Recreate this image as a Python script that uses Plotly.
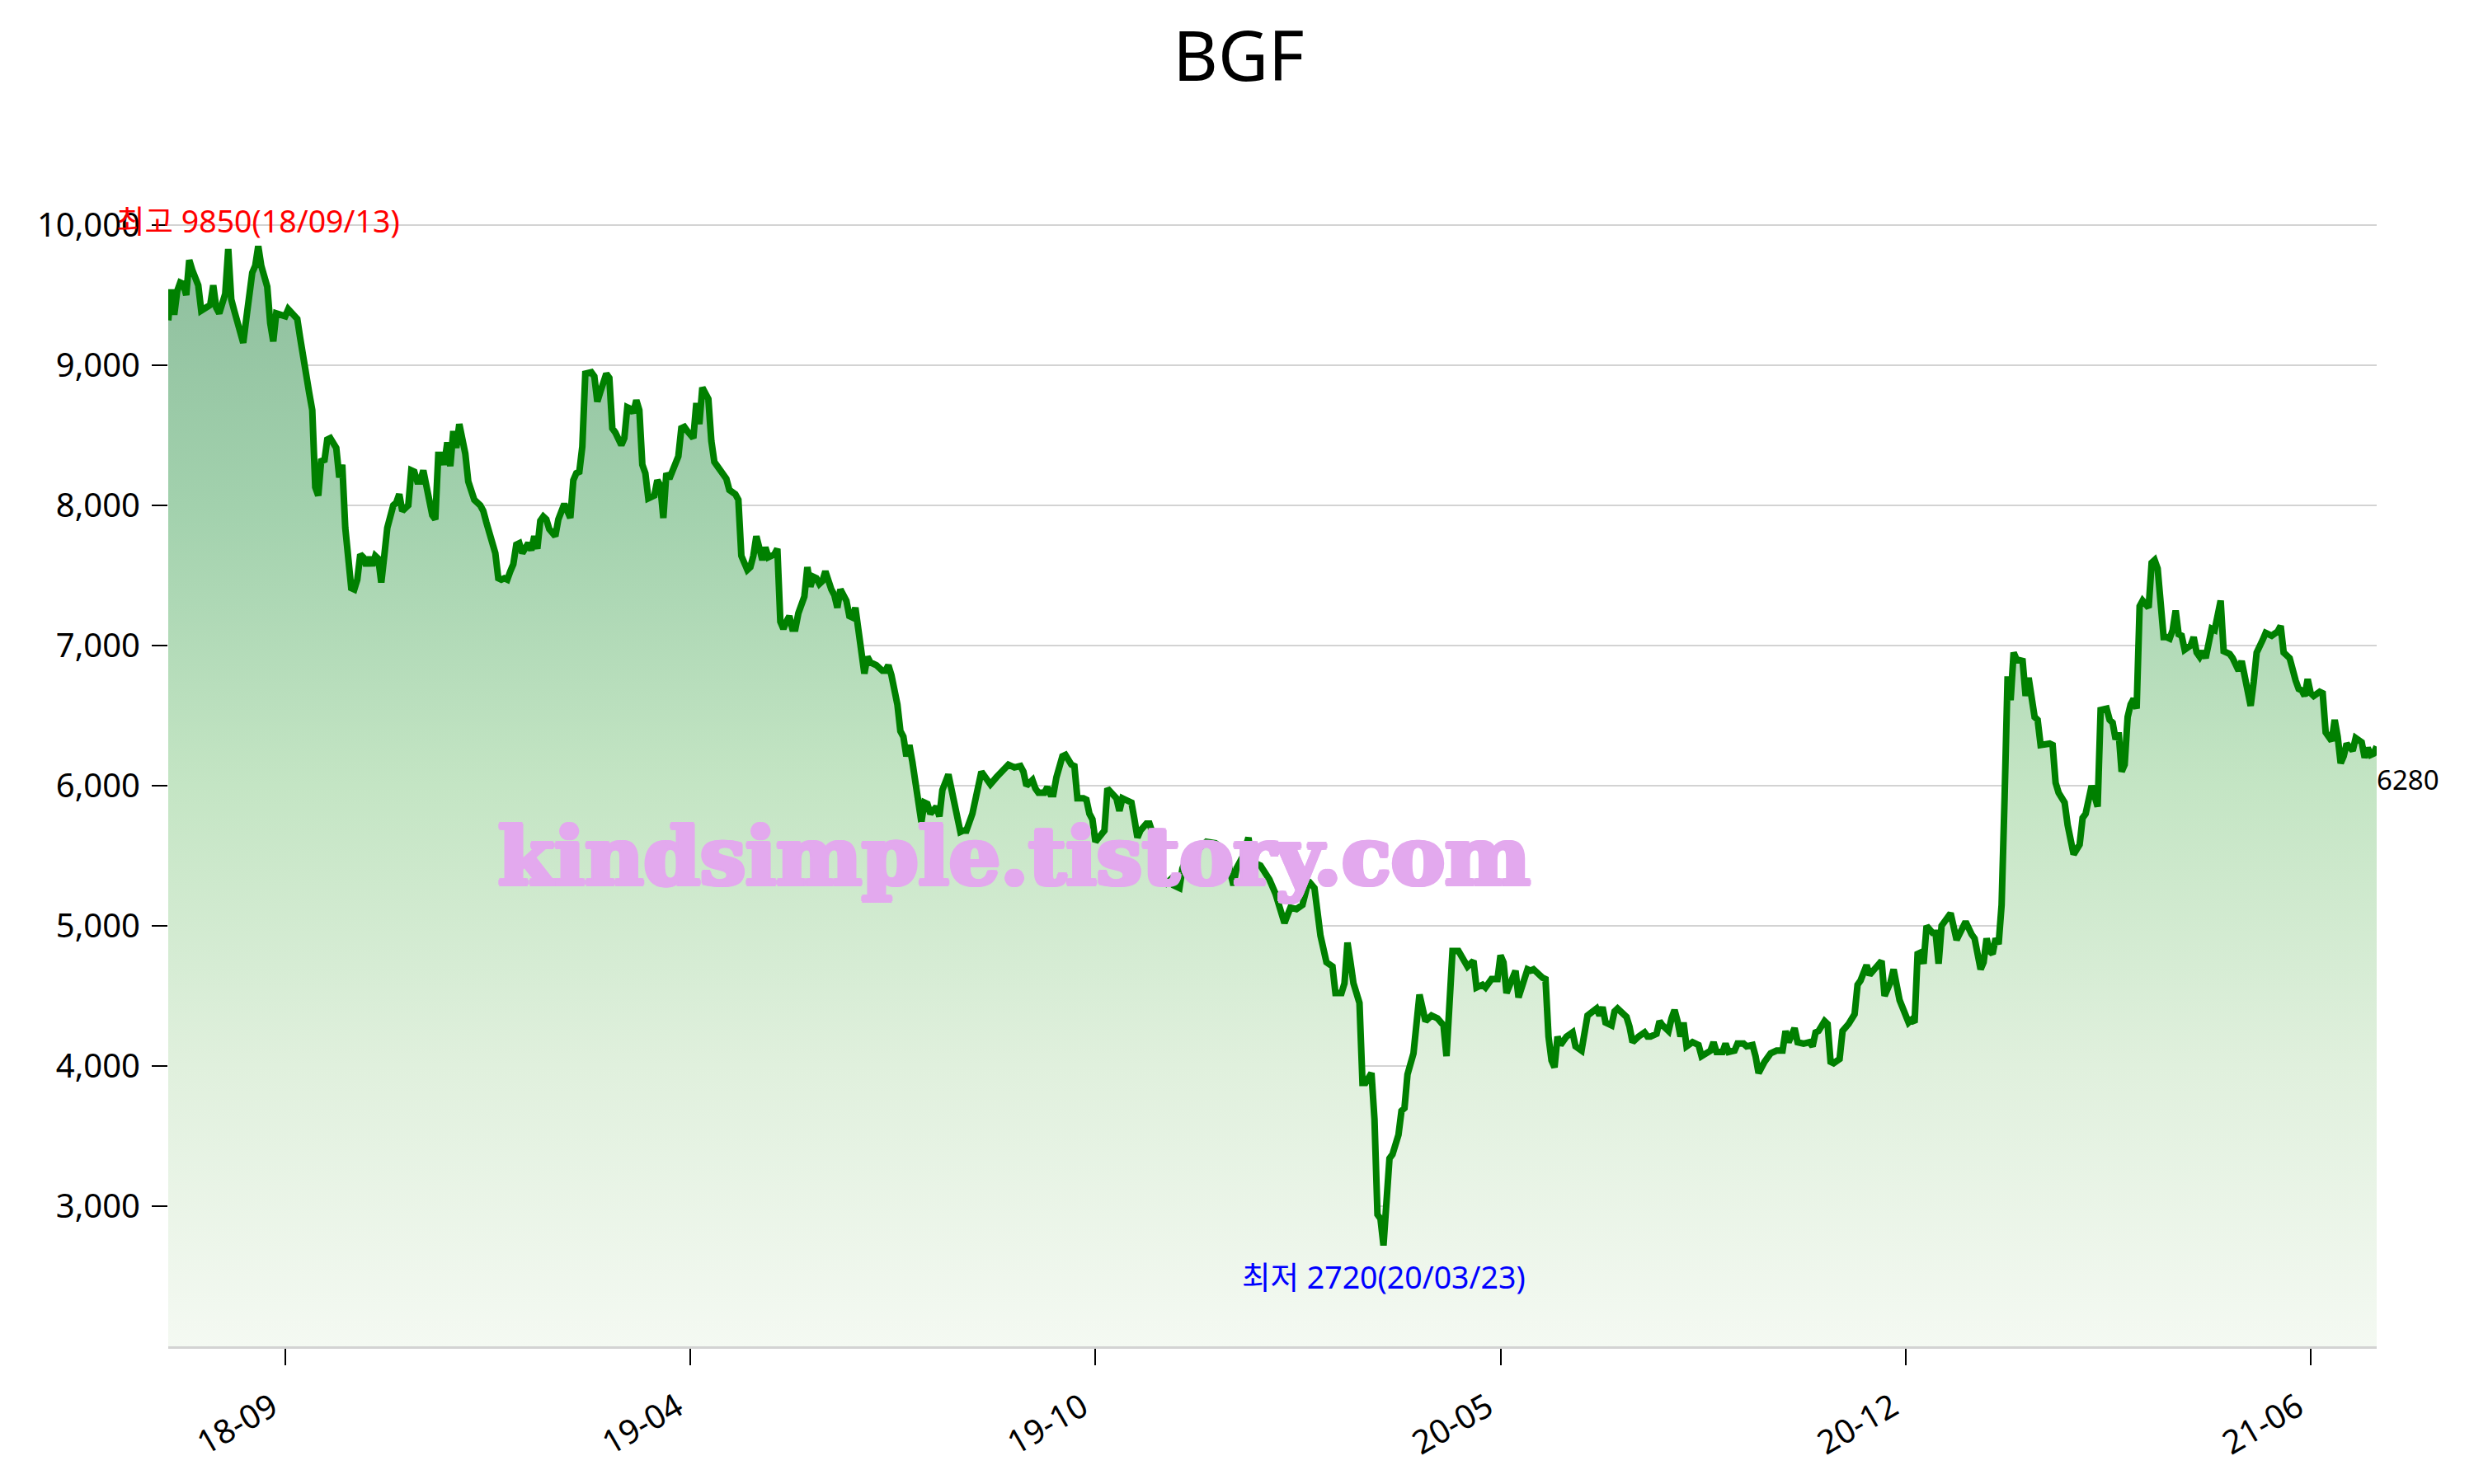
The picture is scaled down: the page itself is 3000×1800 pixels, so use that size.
import plotly.graph_objects as go

# ---------------- data ----------------
stock_name = "BGF"
# trading-day index (0 = first trading day shown, ~2018-08-01)
days = [
    0, 1, 2, 3, 4, 5, 6, 7, 8, 9, 10, 11, 12, 13, 14, 15, 16, 17, 18, 19, 20, 21, 22, 23, 24, 25, 26, 28, 29, 30,
    31, 32, 33, 34, 35, 36, 38, 39, 40, 41, 43, 44, 45, 47, 48, 49, 50, 51, 52, 53, 54, 56, 57, 58, 59, 60, 61, 62,
    63, 64, 65, 66, 67, 68, 69, 70, 71, 72, 73, 74, 75, 76, 77, 78, 79, 80, 81, 82, 83, 84, 85, 86, 87, 88, 89, 90,
    91, 92, 93, 94, 95, 96, 97, 98, 99, 100, 101, 102, 104, 105, 106, 107, 108, 109, 110, 111, 112, 113, 114, 115,
    116, 117, 118, 119, 120, 121, 122, 123, 124, 125, 126,
    127, 129, 130, 132, 133, 134, 135, 136, 137, 138, 139, 140, 141, 142, 143, 144, 146, 147, 148, 149, 151, 152,
    153, 154, 155, 156, 157, 158, 159, 160, 162, 163, 164, 165, 166, 167, 169, 170, 171, 172, 173, 175, 176, 177,
    178, 179, 180, 181, 182, 183, 185, 186, 187, 189, 190, 191, 192, 193, 194, 195, 196, 197, 198, 199, 200, 202,
    203, 204, 205, 206, 207, 208, 209, 210, 211, 212, 213, 214, 215, 216, 217, 218, 219, 220, 221, 222, 223, 224,
    225, 226, 227, 228, 229, 231, 232, 233, 234, 236, 238, 239, 240, 241,
    243, 244, 245, 246, 247, 248, 249, 251, 252, 253, 254, 256, 257, 258, 260, 262, 263, 264, 265, 266, 268, 270,
    271, 273, 274, 276, 279, 280, 282, 284, 285, 286, 287, 288, 289, 290, 292, 293, 294, 295, 296, 298, 299, 300,
    301, 302, 303, 305, 306, 307, 308, 309, 311, 312, 313, 315, 316, 317, 318, 319, 321, 322, 323, 324, 326, 327,
    329, 332, 334, 335, 337, 338, 340, 343, 346, 349, 351, 353, 355, 356, 358, 360, 361, 364, 367, 369, 371, 372,
    374, 376, 378, 379, 380, 382, 383, 384, 386, 387, 388, 389, 391, 392, 393, 394, 395, 397, 398, 399, 401, 402,
    403, 404, 405, 407, 408, 410, 411, 412, 413, 415, 416, 417, 419, 421, 423, 425, 426, 427, 428, 430, 432, 433,
    435, 436, 438, 439, 441, 443, 444, 445, 446, 448, 449, 450, 453, 454, 455, 458, 459, 460, 461, 462, 463, 464,
    466, 468, 469, 471, 472, 473, 476, 477, 478, 479, 481, 482, 483, 485, 486, 487, 488, 490, 492, 493, 494,
    496, 497, 498, 500, 501, 502, 503, 504, 505, 506, 508, 510, 511, 513, 514, 515, 516, 518, 519, 520, 522, 523,
    525, 526, 528, 529, 530, 532, 534, 536, 538, 539, 540, 542, 543, 545, 547, 548, 549, 550, 552, 553, 554, 555,
    557, 558, 560, 562, 563, 564, 565, 566, 567, 569, 571, 572, 574, 575, 576, 577, 580, 581, 582, 583, 584, 585,
    586, 588, 589, 590, 591, 593, 594, 596, 597, 599, 601, 602, 604, 605, 606, 607, 608, 609, 610, 611, 612, 613,
    614, 615,
    616, 618, 619, 620, 622, 623, 624, 627, 628, 629, 630, 632, 633, 634, 635, 637, 638, 639, 640, 641, 643, 644,
    646, 647, 648, 649, 650, 651, 652, 653, 654, 655, 656, 657, 658, 660, 661, 662, 663, 665, 666, 667, 668, 669,
    670, 671, 672, 674, 675, 676, 677, 678, 679, 681, 682, 684, 685, 687, 688, 690, 691, 693, 694, 695, 696, 698,
    699, 701, 703, 704, 705, 706, 707, 709, 710, 711, 712, 713, 714, 715, 717, 718, 719, 721, 722, 723, 724, 725,
    726, 728, 729, 731, 732, 733, 734, 735, 736,
]
prices = [
    9320, 9540, 9360, 9530, 9590, 9580, 9500, 9750, 9680, 9610, 9570, 9390, 9400, 9410, 9430, 9570, 9410, 9370,
    9460, 9510, 9830, 9470, 9390, 9310, 9230, 9160, 9330, 9660, 9710, 9850,
    9710, 9640, 9560, 9300, 9170, 9370, 9350, 9350, 9400, 9370, 9330, 9190, 9040, 8800, 8680, 8130, 8070, 8330,
    8310, 8470, 8480, 8410, 8200, 8290, 7840, 7580, 7410, 7400,
    7470, 7650, 7630, 7570, 7630, 7570, 7640, 7620, 7450, 7640, 7840, 7920, 8000, 8020, 8080, 7960, 7980, 8000,
    8250, 8240, 8170, 8170, 8250, 8150, 8000, 7930, 7900, 8360,
    8360, 8290, 8450, 8280, 8530, 8410, 8580, 8470, 8370, 8170, 8080, 8040, 8000, 7960, 7880, 7810, 7720, 7660,
    7480, 7470, 7480, 7470, 7530, 7580,
    7720, 7730, 7660, 7700, 7730, 7680, 7780, 7690, 7890, 7920, 7900,
    7830, 7780, 7900, 8010, 7960, 7910, 8180, 8230, 8240, 8420, 8940, 8950, 8950, 8920, 8740, 8810, 8940, 8910,
    8550, 8520, 8430, 8480,
    8700, 8690, 8660, 8750, 8680, 8290, 8230, 8050, 8070, 8180, 8140, 7910, 8230, 8190, 8320, 8350, 8550, 8560,
    8530, 8480, 8730, 8580,
    8840, 8790, 8760, 8460, 8310, 8280, 8230, 8190, 8110, 8080, 8040, 7640, 7590, 7540, 7560, 7640, 7780, 7700,
    7610, 7700, 7630, 7650,
    7690, 7170, 7120, 7170, 7210, 7120, 7120, 7230, 7310, 7350, 7560, 7420, 7490, 7480, 7440, 7460, 7530, 7440,
    7400, 7360, 7270, 7400,
    7370, 7320, 7210, 7200, 7270, 6900, 6800, 6920, 6880, 6860, 6820, 6820, 6860, 6790,
    6580, 6390, 6350, 6210, 6290, 6170, 6000, 5740, 5880, 5870, 5800, 5850, 5780, 5970, 6080, 5860, 5740, 5670,
    5680, 5680, 5800, 6010,
    6100, 6040, 6010, 6060, 6140, 6150, 6130, 6140, 6100, 6000, 6020, 6040, 5980, 5950, 5950, 5990, 5940, 5940,
    6060, 6210, 6220, 6180,
    6150, 6140, 5910, 5910, 5900, 5800, 5760, 5600, 5650, 5680, 5980, 5930, 5910, 5820, 5910, 5900, 5880, 5760,
    5630, 5680, 5730, 5730,
    5600, 5290, 5330, 5290, 5270, 5410, 5510, 5540, 5600, 5590, 5560, 5470, 5290, 5410, 5490, 5630, 5460, 5430,
    5330, 5230, 5090, 5020,
    5130, 5120, 5150, 5250, 5320, 5270, 5080, 4930, 4740, 4720, 4710, 4520, 4520, 4590, 4880, 4740, 4590, 4450,
    3880, 3880, 3950, 3620,
    2940, 2910, 2720, 3340, 3370, 3510, 3680, 3700, 3940, 4090, 4320, 4510, 4320, 4360, 4340, 4290, 4070, 4480,
    4820, 4820, 4760, 4710,
    4750, 4560, 4580, 4560, 4620, 4620, 4790, 4740, 4520, 4610, 4680, 4490, 4690, 4680, 4690, 4630, 4620, 4210,
    4040, 3990, 4210, 4150,
    4210, 4240, 4140, 4110, 4240, 4360, 4410, 4360, 4420, 4310, 4290, 4390, 4410, 4360, 4350, 4280, 4170, 4210,
    4240, 4210, 4210,
    4230, 4320, 4290, 4250, 4340, 4400, 4320, 4210, 4310, 4140, 4170, 4150, 4070, 4100, 4110, 4170, 4100, 4100,
    4160, 4100, 4110, 4160,
    4160, 4140, 4150, 4070, 3950, 4030, 4090, 4110, 4110, 4250, 4170, 4270, 4170, 4160, 4170, 4140, 4240, 4250,
    4320, 4300, 4030, 4020,
    4050, 4250, 4300, 4370, 4580, 4610, 4660, 4720, 4650, 4700, 4750, 4500, 4600, 4690, 4590, 4470, 4310, 4330,
    4310, 4800, 4810, 4730,
    5000, 4950, 4950, 4730, 5000, 5050, 5090, 4900, 4940, 5030, 4940, 4910, 4690, 4740, 4910, 4820, 4800, 4910,
    4870, 5150, 5920, 6780,
    6610, 6950,
    6900, 6890, 6640, 6770, 6490, 6470, 6290, 6300, 6290, 6020, 5950, 5880, 5720, 5620, 5510, 5580, 5770, 5800,
    5900, 6000, 5850, 6540,
    6550, 6470, 6450, 6330, 6380, 6100, 6150, 6490, 6580, 6620, 6550, 7280, 7320, 7270, 7590, 7610, 7550, 7060,
    7060, 7050, 7110, 7250,
    7080, 7070, 6970, 7000, 7060, 6950, 6920, 6960, 6910, 7120, 7110, 7320, 6960, 6940, 6910, 6820, 6890, 6680,
    6570, 6740, 6950, 7040,
    7090, 7070, 7100, 7140, 6950, 6930, 6910, 6750, 6690, 6680, 6640, 6760, 6660, 6640, 6670, 6660, 6380, 6320,
    6470, 6350, 6160, 6210,
    6300, 6250, 6340, 6310, 6200, 6270, 6220, 6230, 6280,
]
tick_days = [39, 174, 309, 444, 579, 714]
tick_labels = ["18-09", "19-04", "19-10", "20-05", "20-12", "21-06"]
y_ticks = [3000, 4000, 5000, 6000, 7000, 8000, 9000, 10000]
high_date = "18/09/13"
low_date = "20/03/23"
watermark = "kindsimple.tistory.com"

# ---------------- figure ----------------
FONT = "Noto Sans, Noto Sans CJK KR, sans-serif"
WM_COLOR = "#e3a9ee"

i_max = max(range(len(prices)), key=lambda i: prices[i])
i_min = min(range(len(prices)), key=lambda i: prices[i])

fig = go.Figure()
fig.add_trace(go.Scatter(
    x=days, y=prices, mode="lines",
    line=dict(color="#008000", width=8),
    fill="tozeroy",
    fillgradient=dict(
        type="vertical", start=2000, stop=10000,
        colorscale=[[0.0, "#f4f9f2"], [0.25, "#e0f0dd"], [0.5, "#c4e5c4"],
                    [0.75, "#a2d1ad"], [1.0, "#8cbd9c"]],
    ),
    hoverinfo="skip",
    showlegend=False,
))

wm_shadow = ", ".join(f"{dx}px {dy}px 0 {WM_COLOR}" for dx, dy in
                      [(2, 0), (-2, 0), (0, 2), (0, -2), (2, 2), (-2, -2), (2, -2), (-2, 2),
                       (3, 0), (-3, 0)])

annotations = [
    dict(x=days[i_max], y=prices[i_max], text=f"최고 {prices[i_max]}({high_date})",
         showarrow=False, xanchor="center", yanchor="middle", yshift=31,
         font=dict(color="#ff0000", size=37.5, family=FONT)),
    dict(x=days[i_min], y=prices[i_min], text=f"최저 {prices[i_min]}({low_date})",
         showarrow=False, xanchor="center", yanchor="middle", yshift=-38,
         font=dict(color="#0000ff", size=37.5, family=FONT)),
    dict(x=days[-1], y=prices[-1], text=str(prices[-1]),
         showarrow=False, xanchor="left", yanchor="middle", yshift=-40, xshift=-2,
         font=dict(color="#000000", size=33, family=FONT)),
    dict(x=282, y=5500, text=f"<b>{watermark}</b>", showarrow=False,
         xanchor="center", yanchor="middle",
         font=dict(color=WM_COLOR, size=98, family="DejaVu Serif", shadow=wm_shadow)),
]

fig.update_layout(
    width=3000, height=1800,
    margin=dict(l=196, r=126, t=180, b=175),
    paper_bgcolor="white", plot_bgcolor="white",
    font=dict(family=FONT, color="black"),
    title=dict(text=stock_name, x=0.498, xanchor="center", xref="container",
               y=1 - 61 / 1800, yanchor="middle",
               font=dict(size=84, color="black", family=FONT)),
    annotations=annotations,
    showlegend=False,
)

fig.update_xaxes(
    range=[0, 736], tickvals=tick_days, ticktext=tick_labels,
    tickangle=-30, tickfont=dict(size=40, color="black"),
    ticks="outside", ticklen=20, tickwidth=2, tickcolor="black",
    ticklabelstandoff=12, ticklabelshift=-16,
    showgrid=False, zeroline=False,
    showline=True, linecolor="#d3d3d3", linewidth=3,
)
fig.update_yaxes(
    range=[2000, 10500], tickvals=y_ticks, tickformat=",",
    tickfont=dict(size=40, color="black"),
    ticks="outside", ticklen=19, tickwidth=2, tickcolor="black",
    ticklabelstandoff=6,
    showgrid=True, gridcolor="#d3d3d3", gridwidth=2,
    zeroline=False, showline=False,
)

fig.write_html("out.html")
